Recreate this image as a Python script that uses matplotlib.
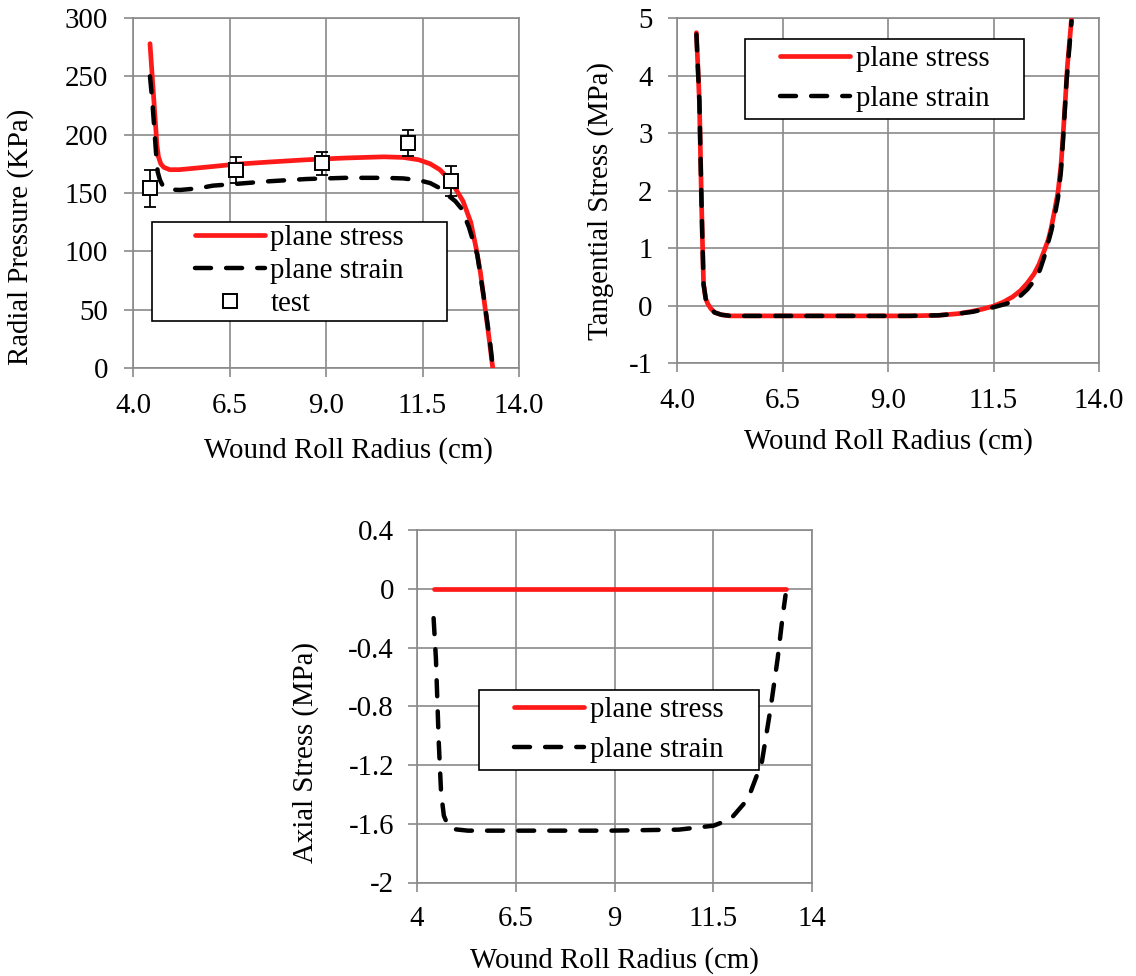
import matplotlib
matplotlib.use("Agg")
import matplotlib.pyplot as plt
from matplotlib.patches import Rectangle

plt.rcParams['font.family'] = ['Liberation Serif', 'DejaVu Serif']
plt.rcParams['axes.unicode_minus'] = False

# ---------------- data ----------------
# Radial pressure (KPa)
rad_stress_x = [4.44, 4.50, 4.56, 4.62, 4.66, 4.72, 4.80, 4.95, 5.20, 6.00, 6.60, 7.50, 8.50,
                9.50, 10.50, 11.00, 11.40, 11.70, 11.95, 12.15, 12.35, 12.55, 12.75, 12.90,
                13.00, 13.10, 13.20, 13.32]
rad_stress_y = [278, 249, 220, 191, 181, 175, 172, 170, 170, 172.5, 174.5, 176.5, 178.5,
                180, 181, 180.5, 178.5, 175, 170, 163, 154, 143, 125, 101,
                82, 57, 32, 0]
rad_strain_x = [4.44, 4.50, 4.55, 4.60, 4.64, 4.70, 4.79, 4.95, 5.22, 5.69, 6.07, 6.51, 7.50,
                8.50, 9.50, 10.50, 11.00, 11.40, 11.70, 11.90, 12.06, 12.20, 12.35, 12.50,
                12.70, 12.92, 13.10, 13.25, 13.31]
rad_strain_y = [250, 229, 206, 183, 168, 161, 155, 153, 152.6, 154, 156.3, 157.4, 160,
                162, 163, 163, 162.5, 161, 158.5, 155, 151, 147, 143, 137,
                121, 97, 58, 22, 4]
test_x = [4.45, 6.68, 8.90, 11.12, 12.23]
test_y = [154, 170, 175.5, 192.7, 160.3]
test_err = [16, 11, 10, 11, 12.5]

# Tangential stress (MPa)
tan_stress_x = [4.46, 4.53, 4.58, 4.60, 4.63, 4.68, 4.73, 4.80, 4.89, 5.05, 5.26, 6.50, 8.00,
                9.50, 10.20, 10.68, 11.00, 11.25, 11.50, 11.73, 11.95, 12.14, 12.30, 12.46,
                12.58, 12.70, 12.80, 12.87, 12.96, 13.03, 13.10, 13.15, 13.20, 13.25, 13.35]
tan_stress_y = [4.75, 3.56, 1.82, 1.20, 0.37, 0.12, 0.03, -0.05, -0.12, -0.16, -0.18, -0.18, -0.18,
                -0.18, -0.17, -0.14, -0.10, -0.06, -0.01, 0.06, 0.15, 0.26, 0.39, 0.55,
                0.72, 0.95, 1.15, 1.36, 1.70, 1.98, 2.45, 2.98, 3.55, 4.16, 5.00]
tan_strain_x = [4.46, 4.53, 4.58, 4.60, 4.63, 4.68, 4.73, 4.80, 4.89, 5.05, 5.26, 6.50, 8.00,
                9.50, 10.20, 10.68, 11.00, 11.25, 11.50, 11.80, 12.00, 12.14, 12.30, 12.46,
                12.60, 12.70, 12.87, 12.96, 13.03, 13.10, 13.15, 13.23, 13.35]
tan_strain_y = [4.72, 3.56, 1.82, 1.20, 0.37, 0.12, 0.03, -0.05, -0.12, -0.16, -0.18, -0.18, -0.18,
                -0.18, -0.17, -0.14, -0.11, -0.07, -0.03, 0.03, 0.09, 0.17, 0.28, 0.43,
                0.62, 0.84, 1.30, 1.60, 1.88, 2.35, 2.90, 3.90, 4.95]

# Axial stress (MPa)
ax_stress_x = [4.42, 13.34]
ax_stress_y = [0.0, 0.0]
ax_strain_x = [4.42, 4.48, 4.55, 4.61, 4.68, 4.78, 4.90, 5.29, 7.00, 8.88, 10.63, 11.51, 11.94,
               12.38, 12.73, 12.95, 13.13, 13.26, 13.33]
ax_strain_y = [-0.20, -0.48, -1.04, -1.39, -1.545, -1.61, -1.636, -1.647, -1.647, -1.647, -1.64,
               -1.613, -1.568, -1.431, -1.181, -0.817, -0.476, -0.18, -0.044]

xticks = [4, 6.5, 9, 11.5, 14]
xticklabels_top = ['4.0', '6.5', '9.0', '11.5', '14.0']
xticklabels_bottom = ['4', '6.5', '9', '11.5', '14']
rad_yticks = [0, 50, 100, 150, 200, 250, 300]
rad_yticklabels = ['0', '50', '100', '150', '200', '250', '300']
tan_yticks = [-1, 0, 1, 2, 3, 4, 5]
tan_yticklabels = ['-1', '0', '1', '2', '3', '4', '5']
axl_yticks = [-2, -1.6, -1.2, -0.8, -0.4, 0, 0.4]
axl_yticklabels = ['-2', '-1.6', '-1.2', '-0.8', '-0.4', '0', '0.4']

label_stress = 'plane stress'
label_strain = 'plane strain'
label_test = 'test'
xlabel = 'Wound Roll Radius (cm)'

# ---------------- style ----------------
FS = 20.8
GRID = '#8a8a8a'
RED = '#ff1a1a'
LW_RED = 3.4
LW_BLK = 3.2
DASH = (3.6, 3.4)

fig = plt.figure(figsize=(11.36, 9.76), dpi=100)
ax1 = fig.add_axes([133/1136, 1-368/976, 386/1136, 350/976])
ax2 = fig.add_axes([677/1136, 1-363/976, 422/1136, 344.7/976])
ax3 = fig.add_axes([417/1136, 1-882.5/976, 395/1136, 352.5/976])


def style(ax, xpad, ypad):
    ax.set_axisbelow(True)
    ax.grid(True, color=GRID, lw=1.2)
    for s in ax.spines.values():
        s.set_color(GRID)
        s.set_linewidth(1.2)
    ax.tick_params(axis='both', direction='out', length=6.5, width=1.2, color=GRID,
                   labelsize=FS, labelcolor='black')
    ax.tick_params(axis='x', pad=xpad)
    ax.tick_params(axis='y', pad=ypad)
    ax.set_xlim(4, 14)
    ax.set_xticks(xticks)


def legend_box(ax, x0, y0, x1, y1, handles, labels, spacing):
    rect = Rectangle((x0, y0), x1 - x0, y1 - y0, transform=ax.transAxes,
                     facecolor='white', edgecolor='black', lw=1.2, zorder=6)
    ax.add_patch(rect)
    leg = ax.legend(handles, labels, loc='center',
                    bbox_to_anchor=((x0 + x1) / 2, (y0 + y1) / 2),
                    frameon=False, borderpad=0, handlelength=2.42, handletextpad=0.2,
                    labelspacing=spacing, fontsize=FS)
    leg.set_zorder(7)


# ---- top-left: radial pressure ----
style(ax1, 11.5, 11.5)
l1, = ax1.plot(rad_stress_x, rad_stress_y, color=RED, lw=LW_RED, zorder=3,
               solid_capstyle='round', solid_joinstyle='round')
l2, = ax1.plot(rad_strain_x, rad_strain_y, color='black', lw=LW_BLK, zorder=4,
               dashes=DASH, dash_capstyle='round', dash_joinstyle='round')
ax1.errorbar(test_x, test_y, yerr=test_err, fmt='none', ecolor='black', elinewidth=1.3,
             capsize=4.5, capthick=1.3, zorder=5)
l3, = ax1.plot(test_x, test_y, ls='none', marker='s', markersize=10, markerfacecolor='white',
               markeredgecolor='black', markeredgewidth=1.4, zorder=5.5)
ax1.set_ylim(0, 300)
ax1.set_yticks(rad_yticks)
ax1.set_yticklabels(rad_yticklabels)
ax1.set_xticklabels(xticklabels_top)
ax1.set_xlabel(xlabel, fontsize=FS)
ax1.set_ylabel('Radial Pressure (KPa)', fontsize=FS)
ax1.xaxis.set_label_coords(0.557, -0.197)
ax1.yaxis.set_label_coords(-0.256, 0.375)
legend_box(ax1, 0.048, 0.135, 0.814, 0.418, [l1, l2, l3],
           [label_stress, label_strain, label_test], 0.24)

# ---- top-right: tangential stress ----
style(ax2, 11.5, 11.0)
m1, = ax2.plot(tan_stress_x, tan_stress_y, color=RED, lw=LW_RED, zorder=3,
               solid_capstyle='round', solid_joinstyle='round')
m2, = ax2.plot(tan_strain_x, tan_strain_y, color='black', lw=LW_BLK, zorder=4,
               dashes=DASH, dash_capstyle='round', dash_joinstyle='round')
ax2.set_ylim(-1, 5)
ax2.set_yticks(tan_yticks)
ax2.set_yticklabels(tan_yticklabels)
ax2.set_xticklabels(xticklabels_top)
ax2.set_xlabel(xlabel, fontsize=FS)
ax2.set_ylabel('Tangential Stress (MPa)', fontsize=FS)
ax2.xaxis.set_label_coords(0.501, -0.189)
ax2.yaxis.set_label_coords(-0.149, 0.47)
legend_box(ax2, 0.162, 0.707, 0.823, 0.939, [m1, m2], [label_stress, label_strain], 0.48)

# ---- bottom: axial stress ----
style(ax3, 10.4, 10.0)
n1, = ax3.plot(ax_stress_x, ax_stress_y, color=RED, lw=LW_RED, zorder=3,
               solid_capstyle='round')
n2, = ax3.plot(ax_strain_x, ax_strain_y, color='black', lw=LW_BLK, zorder=4,
               dashes=DASH, dash_capstyle='round', dash_joinstyle='round')
ax3.set_ylim(-2, 0.4)
ax3.set_yticks(axl_yticks)
ax3.set_yticklabels(axl_yticklabels)
ax3.set_xticklabels(xticklabels_bottom)
ax3.set_xlabel(xlabel, fontsize=FS)
ax3.set_ylabel('Axial Stress (MPa)', fontsize=FS)
ax3.xaxis.set_label_coords(0.499, -0.183)
ax3.yaxis.set_label_coords(-0.247, 0.37)
legend_box(ax3, 0.156, 0.319, 0.867, 0.546, [n1, n2], [label_stress, label_strain], 0.48)

fig.savefig('out.png', dpi=100)
